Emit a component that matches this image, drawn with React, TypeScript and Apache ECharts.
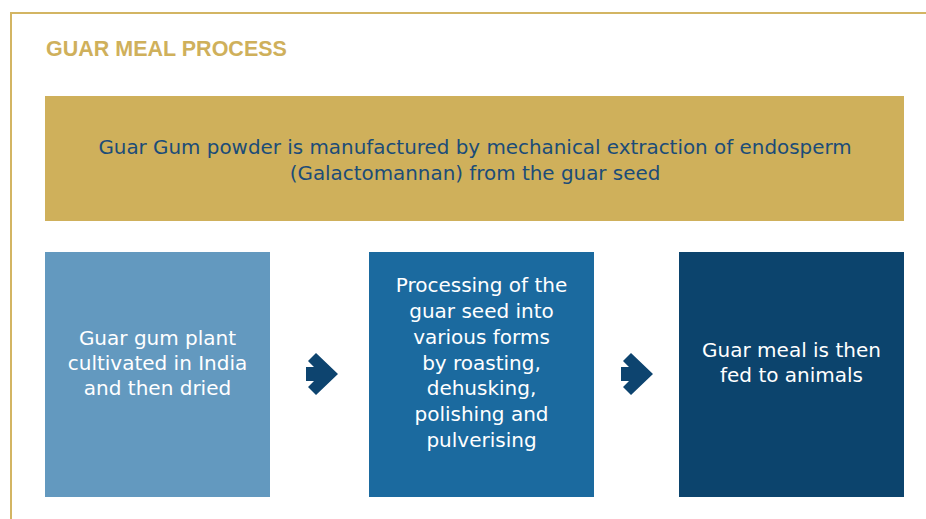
import React, { useEffect, useRef } from "react";
import * as echarts from "echarts";

const titleText = "GUAR MEAL PROCESS";
const bannerLines = [
  "Guar Gum powder is manufactured by mechanical extraction of endosperm",
  "(Galactomannan) from the guar seed",
];
const step1Lines = ["Guar gum plant", "cultivated in India", "and then dried"];
const step2Lines = [
  "Processing of the",
  "guar seed into",
  "various forms",
  "by roasting,",
  "dehusking,",
  "polishing and",
  "pulverising",
];
const step3Lines = ["Guar meal is then", "fed to animals"];
const stepLines = [step1Lines, step2Lines, step3Lines];
const stepColors = ["#6399bf", "#1b6a9f", "#0c446d"];

const GOLD = "#cfb05b";
const NAVY = "#0d446f";
const TEXT_BLUE = "#1b4c78";

export default function App() {
  const ref = useRef<HTMLDivElement>(null);
  useEffect(() => {
    document.body.style.margin = "0";
    const chart = echarts.init(ref.current!, null, { renderer: "svg" });
    const els: any[] = [];
    // outer frame
    els.push({
      type: "rect",
      shape: { x: 11, y: 13, width: 1000, height: 1000 },
      style: { fill: "none", stroke: "#d3b563", lineWidth: 2 },
    });
    // title
    els.push({
      type: "text",
      x: 46,
      y: 49,
      style: {
        text: titleText,
        fill: GOLD,
        font: "bold 21.5px 'Liberation Sans', Arial, sans-serif",
        textAlign: "left",
        textVerticalAlign: "middle",
      },
    });
    // banner
    els.push({
      type: "rect",
      shape: { x: 45, y: 96, width: 859, height: 125 },
      style: { fill: GOLD },
    });
    const bannerBase = [153, 179];
    bannerLines.forEach((t, i) => {
      els.push({
        type: "text",
        x: 475,
        y: bannerBase[i] - 6,
        style: {
          text: t,
          fill: TEXT_BLUE,
          font: "19.9px 'DejaVu Sans', sans-serif",
          textAlign: "center",
          textVerticalAlign: "middle",
        },
      });
    });
    // step boxes
    const boxX = [45, 369, 679];
    const lh = [25, 25.8, 25];
    stepLines.forEach((lines, b) => {
      els.push({
        type: "rect",
        shape: { x: boxX[b], y: 252, width: 225, height: 245 },
        style: { fill: stepColors[b] },
      });
      const n = lines.length;
      lines.forEach((t, i) => {
        const base = 368.5 + (i - (n - 1) / 2) * lh[b];
        els.push({
          type: "text",
          x: boxX[b] + 112.5,
          y: base - 6,
          style: {
            text: t,
            fill: "#ffffff",
            font: "20px 'DejaVu Sans', sans-serif",
            textAlign: "center",
            textVerticalAlign: "middle",
          },
        });
      });
    });
    // arrows
    const arrowX = [306, 621];
    const rel = [
      [0, -7], [8, -7], [2, -13], [10, -21], [32, 0],
      [10, 21], [2, 13], [8, 7], [0, 7],
    ];
    arrowX.forEach((ax) => {
      els.push({
        type: "polygon",
        shape: { points: rel.map(([dx, dy]) => [ax + dx, 374 + dy]) },
        style: { fill: NAVY },
      });
    });
    chart.setOption({ animation: false, graphic: { elements: els } });
    return () => chart.dispose();
  }, []);
  return (
    <div
      ref={ref}
      style={{ position: "fixed", left: 0, top: 0, width: 926, height: 519, background: "#fff" }}
    />
  );
}
